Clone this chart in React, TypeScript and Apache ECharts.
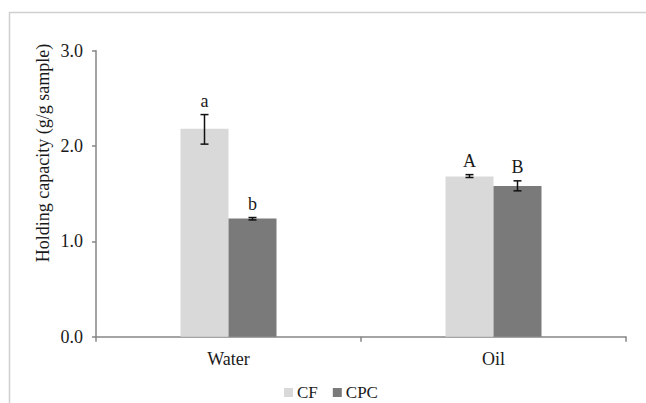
import React, { useEffect, useRef } from "react";
import * as echarts from "echarts";

const categories = ["Water", "Oil"];
const seriesNames = ["CF", "CPC"];
const cfValues = [2.18, 1.68];
const cpcValues = [1.24, 1.58];
const cfErrLow = [2.02, 1.67];
const cfErrHigh = [2.33, 1.70];
const cpcErrLow = [1.225, 1.53];
const cpcErrHigh = [1.25, 1.635];
const cfLetters = ["a", "A"];
const cpcLetters = ["b", "B"];
const yTicks = [0, 1, 2, 3];

const FONT = "Liberation Serif";

export default function App() {
  const ref = useRef<HTMLDivElement>(null);
  useEffect(() => {
    if (!ref.current) return;
    const chart = echarts.init(ref.current, undefined, { renderer: "svg" });
    const barWidth = 48;

    const makeErr = (low: number[], high: number[]) =>
      categories.map((_, i) => [i, low[i], high[i]]);

    const renderErr = (sign: number) => (params: any, api: any) => {
      const idx = api.value(0);
      const lo = api.coord([idx, api.value(1)]);
      const hi = api.coord([idx, api.value(2)]);
      const x = lo[0] + (sign * barWidth) / 2;
      const cap = 4;
      const letter = (sign < 0 ? cfLetters : cpcLetters)[idx];
      return {
        type: "group",
        children: [
          { type: "line", shape: { x1: x, y1: lo[1], x2: x, y2: hi[1] }, style: { stroke: "#111", lineWidth: 1.5 } },
          { type: "line", shape: { x1: x - cap, y1: lo[1], x2: x + cap, y2: lo[1] }, style: { stroke: "#111", lineWidth: 1.5 } },
          { type: "line", shape: { x1: x - cap, y1: hi[1], x2: x + cap, y2: hi[1] }, style: { stroke: "#111", lineWidth: 1.5 } },
          {
            type: "text",
            x: x,
            y: hi[1] - 14,
            style: {
              text: letter,
              fill: "#1a1a1a",
              fontFamily: FONT,
              fontSize: 18,
              align: "center",
              verticalAlign: "middle",
            },
          },
        ],
      };
    };

    chart.setOption({
      animation: false,
      backgroundColor: "#ffffff",
      textStyle: { fontFamily: FONT },
      grid: { left: 96, right: 20, top: 50.7, bottom: 66.3, containLabel: false },
      legend: {
        data: seriesNames,
        left: 284,
        top: 384,
        padding: 0,
        itemWidth: 9,
        itemHeight: 9,
        itemGap: 15,
        icon: "rect",
        textStyle: { fontFamily: FONT, fontSize: 17, lineHeight: 16, color: "#1a1a1a", padding: [0, 0, 0, -1] },
      },
      xAxis: {
        type: "category",
        data: categories,
        axisLine: { lineStyle: { color: "#868686", width: 1.5 } },
        axisTick: { show: true, length: 5, lineStyle: { color: "#868686", width: 1.5 } },
        axisLabel: { fontFamily: FONT, fontSize: 18, color: "#1a1a1a", margin: 13 },
      },
      yAxis: {
        type: "value",
        min: 0,
        max: 3,
        interval: 1,
        splitLine: { show: false },
        axisLine: { show: true, lineStyle: { color: "#868686", width: 1.5 } },
        axisTick: { show: true, length: 4, lineStyle: { color: "#868686", width: 1.5 } },
        axisLabel: {
          fontFamily: FONT,
          fontSize: 18,
          color: "#1a1a1a",
          margin: 13,
          formatter: (v: number) => (yTicks.includes(v) ? v.toFixed(1) : ""),
        },
      },
      graphic: [
        {
          type: "rect",
          shape: { x: 9.5, y: 12.5, width: 700, height: 500 },
          style: { fill: "none", stroke: "#cfcfcf", lineWidth: 1.5 },
          silent: true,
        },
        {
          type: "text",
          x: 43,
          y: 153,
          rotation: Math.PI / 2,
          style: {
            text: "Holding capacity (g/g sample)",
            fontFamily: FONT,
            fontSize: 18,
            fill: "#1a1a1a",
            align: "center",
            verticalAlign: "middle",
          },
        },
      ],
      series: [
        {
          name: "CF",
          type: "bar",
          data: cfValues,
          barWidth: barWidth,
          barGap: "0%",
          itemStyle: { color: "#d9d9d9" },
        },
        {
          name: "CPC",
          type: "bar",
          data: cpcValues,
          barWidth: barWidth,
          barGap: "0%",
          itemStyle: { color: "#7a7a7a" },
        },
        {
          type: "custom",
          renderItem: renderErr(-1),
          data: makeErr(cfErrLow, cfErrHigh),
          encode: { x: 0, y: [1, 2] },
          z: 5,
          silent: true,
        },
        {
          type: "custom",
          renderItem: renderErr(1),
          data: makeErr(cpcErrLow, cpcErrHigh),
          encode: { x: 0, y: [1, 2] },
          z: 5,
          silent: true,
        },
      ],
    });
    return () => chart.dispose();
  }, []);
  return (
    <div
      ref={ref}
      style={{ position: "fixed", left: 0, top: 0, width: 646, height: 403, background: "#fff" }}
    />
  );
}
